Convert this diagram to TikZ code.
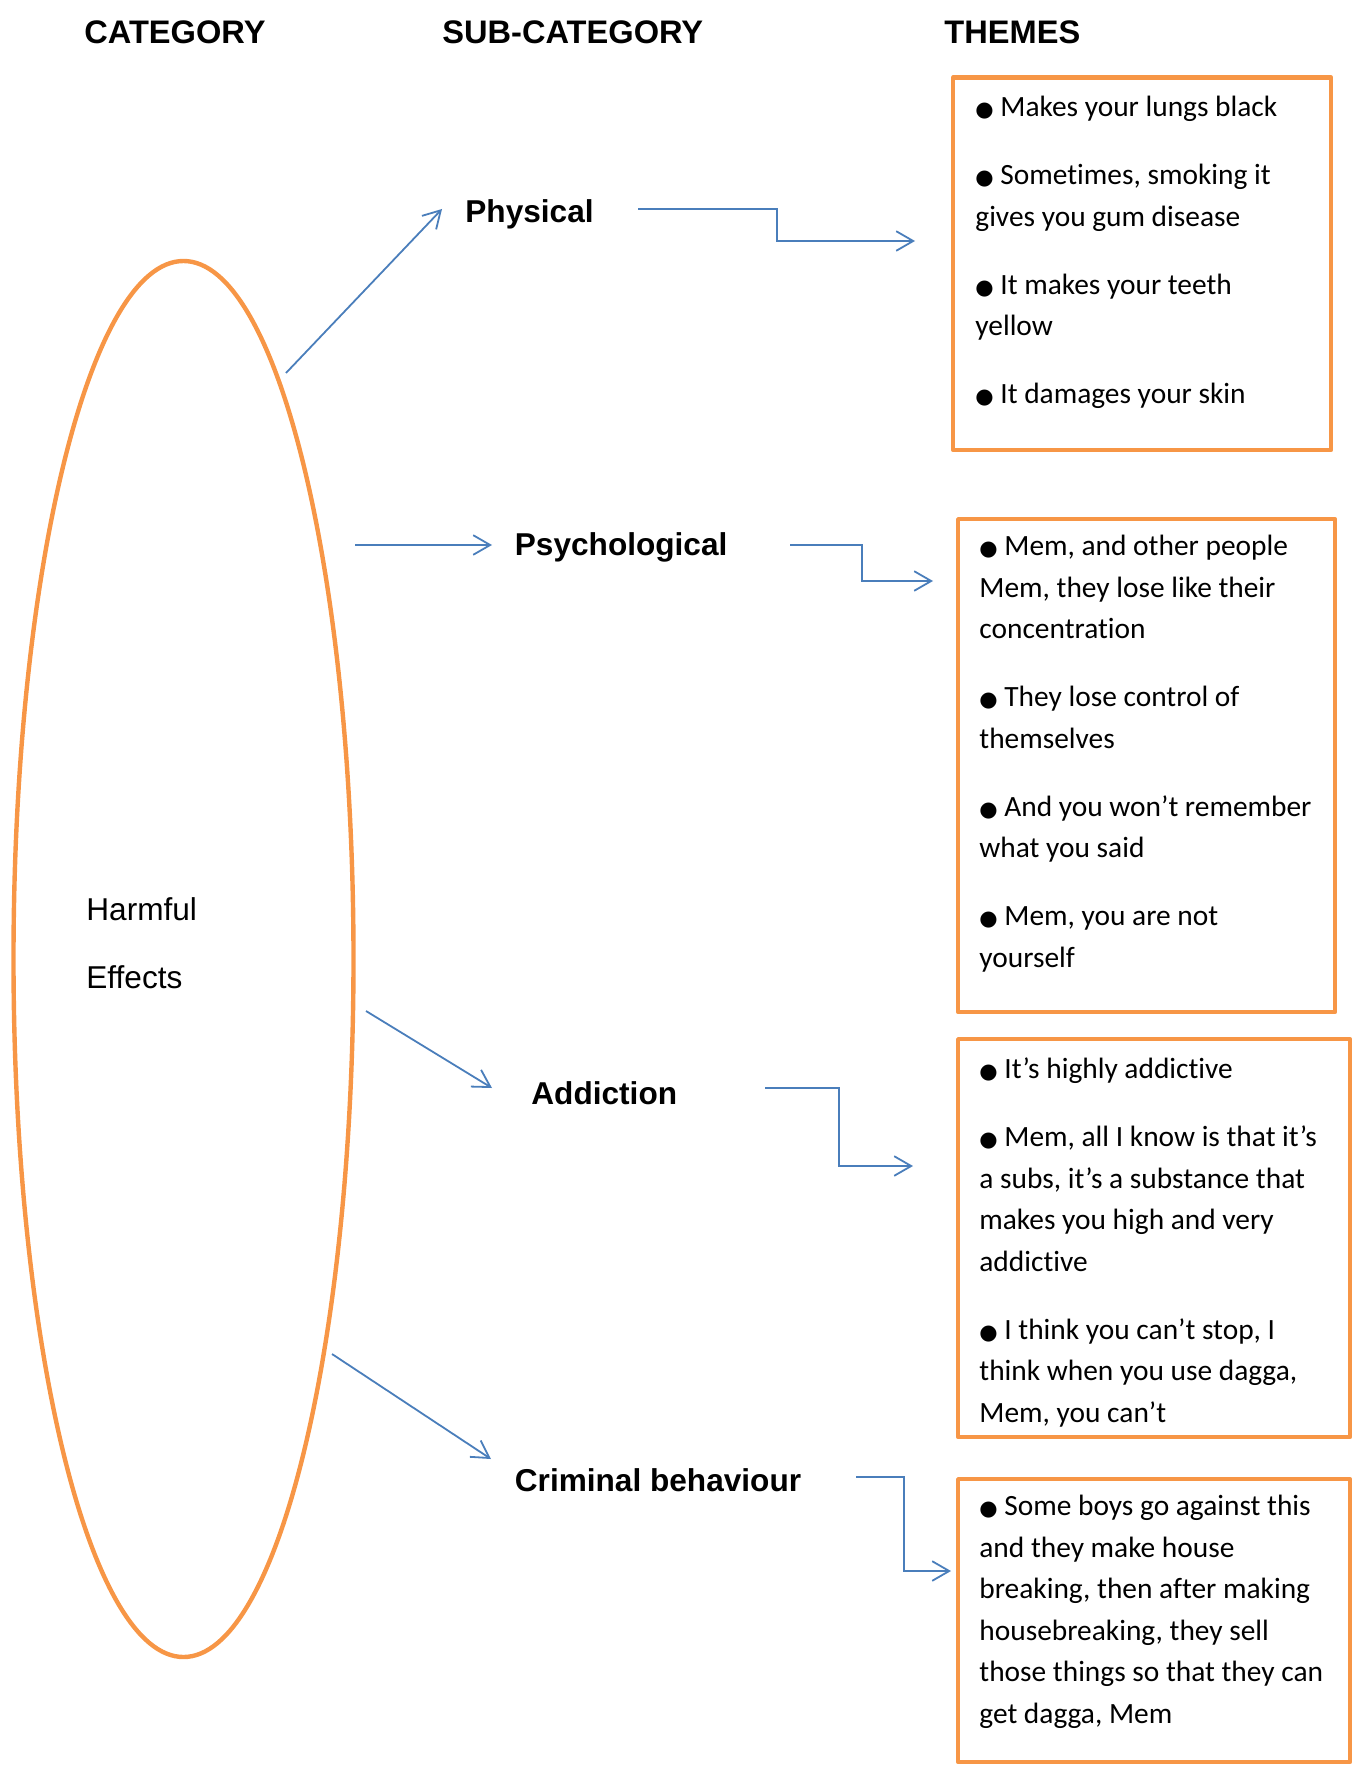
\documentclass[tikz,border=0pt]{standalone}
\usepackage{fontspec}
\setmainfont{Carlito}[RawFeature={-liga;-clig;-dlig;-calt}]
\newfontfamily\arialfont{Liberation Sans}
\newfontfamily\symfont{DejaVu Sans}
\usetikzlibrary{shapes.geometric,arrows.meta}

\definecolor{shapeorange}{HTML}{F79646}
\definecolor{linkblue}{HTML}{4A7EBB}

% one drawing unit = one pixel of the 1351 x 1765 sheet, y pointing down
\newcommand\bul{{\symfont\fontsize{10.5}{10.5}\selectfont ●}\ }

\tikzset{
  heading/.style={anchor=base west, inner sep=0pt,
    font=\arialfont\bfseries\fontsize{16.3}{19}\selectfont},
  sublabel/.style={anchor=base west, inner sep=0pt,
    font=\arialfont\bfseries\fontsize{15.8}{19}\selectfont},
  catlabel/.style={anchor=base west, inner sep=0pt,
    font=\arialfont\fontsize{15.8}{19}\selectfont},
  themebox/.style={draw=shapeorange, line width=2.1pt, anchor=north west,
    inner sep=0pt, line join=round},
  themetext/.style={anchor=north west, inner sep=0pt, align=left,
    font=\fontsize{14.7}{20.8}\selectfont},
  catshape/.style={ellipse, draw=shapeorange, line width=2.2pt, inner sep=0pt},
  link/.style={draw=linkblue, line width=0.9pt,
    -{Straight Barb[length=8.5pt,width=9.8pt,line width=0.9pt]}},
}

\begin{document}
\begin{tikzpicture}[x=0.5pt, y=-0.5pt]
  \useasboundingbox (0,0) rectangle (1351,1765);

  % column headings
  \node[heading] (hcat) at (84,44) {CATEGORY};
  \node[heading] (hsub) at (442,44) {SUB-CATEGORY};
  \node[heading] (hthm) at (944,44) {THEMES};

  % category ellipse and its label
  \node[catshape, minimum width=170pt, minimum height=698pt] (cat) at (183.5,959) {};
  \node[catlabel] (harm) at (86,920) {Harmful};
  \node[catlabel] (eff) at (86,988.5) {Effects};

  % sub-categories
  \node[sublabel] (phys) at (465,223) {Physical};
  \node[sublabel] (psych) at (514.5,555) {Psychological};
  \node[sublabel] (addic) at (531,1104) {Addiction};
  \node[sublabel] (crim) at (514.5,1491) {Criminal behaviour};

  % theme boxes
  \node[themebox, minimum width=189pt, minimum height=186.3pt] (b1) at (951,75.4) {};
  \node[themebox, minimum width=188.5pt, minimum height=246.5pt] (b2) at (956,517) {};
  \node[themebox, minimum width=196pt, minimum height=199pt] (b3) at (956,1037) {};
  \node[themebox, minimum width=196pt, minimum height=141.5pt] (b4) at (956,1477) {};

  % theme texts (first line topped by a strut so that its baseline is fixed)
  \node[themetext] (t1) at (975,86.9) {\strut\bul Makes your lungs black\\[13.2pt]
    \bul Sometimes, smoking it\\ gives you gum disease\\[13.2pt]
    \bul It makes your teeth\\ yellow\\[13.2pt]
    \bul It damages your skin};
  \node[themetext] (t2) at (979,525.9) {\strut\bul Mem, and other people\\
    Mem, they lose like their\\ concentration\\[13.2pt]
    \bul They lose control of\\ themselves\\[13.2pt]
    \bul And you won’t remember\\ what you said\\[13.2pt]
    \bul Mem, you are not\\ yourself};
  \node[themetext] (t3) at (979,1048.9) {\strut\bul It’s highly addictive\\[13.2pt]
    \bul Mem, all I know is that it’s\\ a subs, it’s a substance that\\
    makes you high and very\\ addictive\\[13.2pt]
    \bul I think you can’t stop, I\\ think when you use dagga,\\ Mem, you can’t};
  \node[themetext] (t4) at (979,1485.9) {\strut\bul Some boys go against this\\
    and they make house\\ breaking, then after making\\
    housebreaking, they sell\\ those things so that they can\\ get dagga, Mem};

  % connector end points
  \coordinate (s1) at (286,373);   \coordinate (e1) at (442,209);
  \coordinate (s2) at (355,545);   \coordinate (e2) at (492,545);
  \coordinate (s3) at (366,1011);  \coordinate (e3) at (492,1088);
  \coordinate (s4) at (332,1354);  \coordinate (e4) at (491,1459);

  \coordinate (p1s) at (638,209);  \coordinate (p1m) at (777,241);  \coordinate (p1e) at (915,241);
  \coordinate (p2s) at (790,545);  \coordinate (p2m) at (862,581);  \coordinate (p2e) at (933,581);
  \coordinate (p3s) at (765,1088); \coordinate (p3m) at (839,1166); \coordinate (p3e) at (913,1166);
  \coordinate (p4s) at (856,1477); \coordinate (p4m) at (904,1571); \coordinate (p4e) at (951,1571);

  % category to sub-categories
  \draw[link] (s1) -- (e1);
  \draw[link] (s2) -- (e2);
  \draw[link] (s3) -- (e3);
  \draw[link] (s4) -- (e4);

  % sub-categories to themes
  \draw[link] (p1s) -| (p1m) -- (p1e);
  \draw[link] (p2s) -| (p2m) -- (p2e);
  \draw[link] (p3s) -| (p3m) -- (p3e);
  \draw[link] (p4s) -| (p4m) -- (p4e);
\end{tikzpicture}
\end{document}
